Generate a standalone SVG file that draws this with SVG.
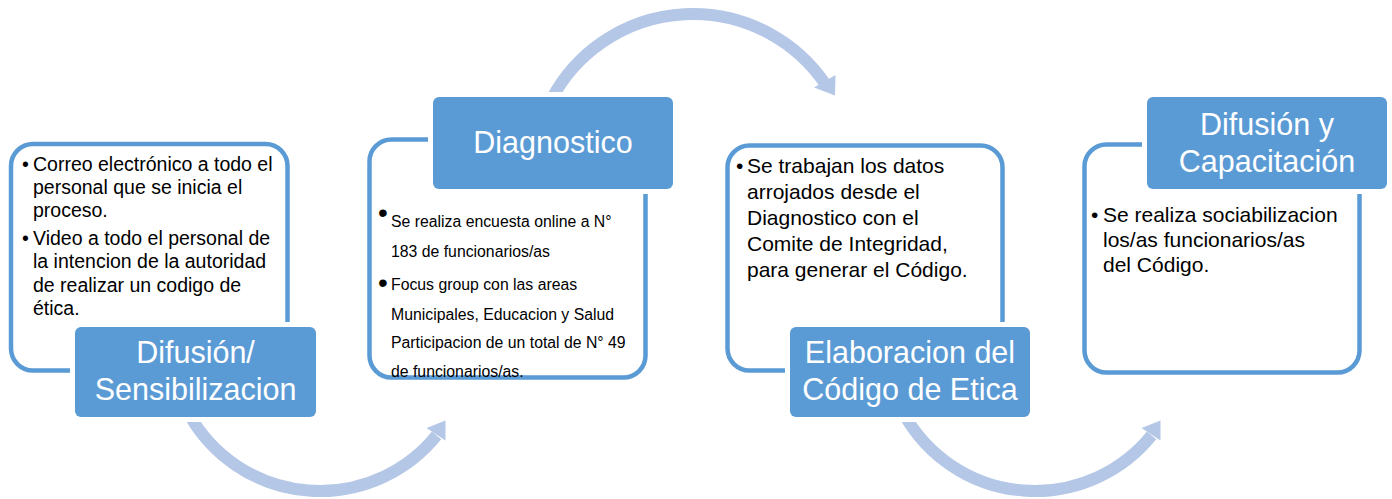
<svg xmlns="http://www.w3.org/2000/svg" width="1392" height="499" viewBox="0 0 1392 499">
<style>
.outline{fill:#fff;stroke:#5B9BD5;stroke-width:4.5}
.label{fill:#5B9BD5;stroke:#fff;stroke-width:10;paint-order:stroke}
.lt{font-family:"Liberation Sans",Arial,sans-serif;font-size:30.5px;fill:#fff;text-anchor:middle}
.b1{font-family:"Liberation Sans",Arial,sans-serif;font-size:19.5px;fill:#000}
.b2{font-family:"Liberation Sans",Arial,sans-serif;font-size:15.8px;fill:#000}
.b3{font-family:"Liberation Sans",Arial,sans-serif;font-size:21px;fill:#000}
.dot{font-family:"Liberation Sans",Arial,sans-serif;font-size:28px;fill:#000}
.arc{fill:none;stroke:#B4C7E7;stroke-width:12}
.head{fill:#B4C7E7}
</style>
<g id="connectors">
<path class="arc" d="M190.1 416 A150 150 0 0 0 436.6 435.4"/>
<polygon class="head" points="445.5,420.5 445.5,440.5 426.5,428"/>
<path class="arc" d="M551.7 98.9 A160 160 0 0 1 825.6 84.5"/>
<polygon class="head" points="835,95.5 835.5,75 814,87.5"/>
<path class="arc" d="M905.1 416 A150 150 0 0 0 1151.6 435.4"/>
<polygon class="head" points="1160.5,420.5 1160.5,440.5 1141.5,428"/>
</g>
<g id="node-difusion">
<rect class="outline" x="11" y="144" width="276.5" height="226.5" rx="22"/>
<text class="b1" x="22" y="170.7">•</text>
<text class="b1" x="33" y="170.7">Correo electrónico a todo el</text>
<text class="b1" x="33" y="194">personal que se inicia el</text>
<text class="b1" x="33" y="217.3">proceso.</text>
<text class="b1" x="22" y="245">•</text>
<text class="b1" x="33" y="245">Video a todo el personal de</text>
<text class="b1" x="33" y="268.3">la intencion de la autoridad</text>
<text class="b1" x="33" y="291.6">de realizar un codigo de</text>
<text class="b1" x="33" y="314.9">ética.</text>
<rect class="label" x="75" y="327" width="241" height="90" rx="6"/>
<text class="lt" x="195.5" y="363">Difusión/</text>
<text class="lt" x="195.5" y="400">Sensibilizacion</text>
</g>
<g id="node-diagnostico">
<rect class="outline" x="369.5" y="139.5" width="276" height="238" rx="22"/>
<text class="dot" x="378" y="222">•</text>
<text class="b2" x="391" y="226.7">Se realiza encuesta online a N°</text>
<text class="b2" x="391" y="256.7">183 de funcionarios/as</text>
<text class="dot" x="378" y="292">•</text>
<text class="b2" x="391" y="290">Focus group con las areas</text>
<text class="b2" x="391" y="320">Municipales, Educacion y Salud</text>
<text class="b2" x="391" y="348.3">Participacion de un total de N° 49</text>
<text class="b2" x="391" y="376.7">de funcionarios/as.</text>
<rect class="label" x="433" y="97" width="240" height="92" rx="6"/>
<text class="lt" x="553" y="153">Diagnostico</text>
</g>
<g id="node-elaboracion">
<rect class="outline" x="727.5" y="145.5" width="275" height="225" rx="22"/>
<text class="b3" x="736" y="172.7">•</text>
<text class="b3" x="747" y="172.7">Se trabajan los datos</text>
<text class="b3" x="747" y="198.7">arrojados desde el</text>
<text class="b3" x="747" y="224.7">Diagnostico con el</text>
<text class="b3" x="747" y="250.7">Comite de Integridad,</text>
<text class="b3" x="747" y="276.7">para generar el Código.</text>
<rect class="label" x="790" y="327" width="240" height="90" rx="6"/>
<text class="lt" x="910" y="363">Elaboracion del</text>
<text class="lt" x="910" y="400">Código de Etica</text>
</g>
<g id="node-capacitacion">
<rect class="outline" x="1084.5" y="144.5" width="275" height="228" rx="22"/>
<text class="b3" x="1091" y="221.7">•</text>
<text class="b3" x="1103" y="221.7">Se realiza sociabilizacion</text>
<text class="b3" x="1103" y="246.7">los/as funcionarios/as</text>
<text class="b3" x="1103" y="271.7">del Código.</text>
<rect class="label" x="1147" y="97" width="240" height="92" rx="6"/>
<text class="lt" x="1267" y="135">Difusión y</text>
<text class="lt" x="1267" y="172">Capacitación</text>
</g>
</svg>
